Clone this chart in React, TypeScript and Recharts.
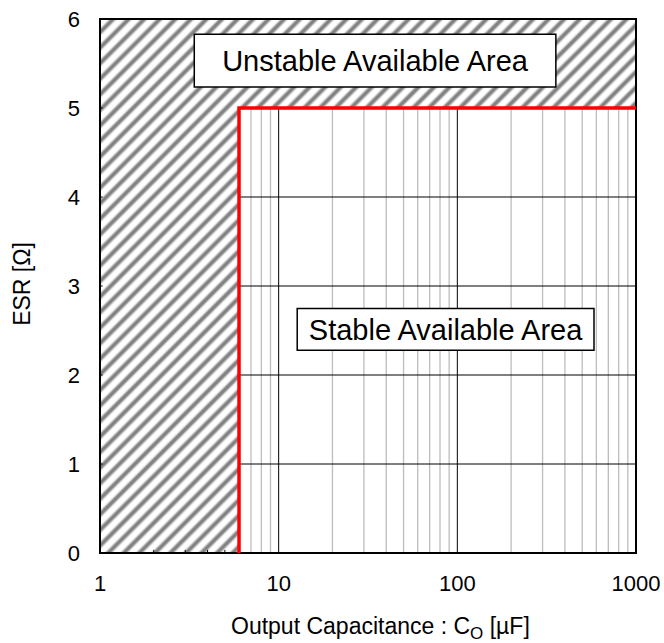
import React from 'react';
import { ComposedChart, Line, XAxis, YAxis, ReferenceArea, ReferenceLine } from 'recharts';

// ---- data ----
const xTicks = [1, 10, 100, 1000];
const yTicks = [0, 1, 2, 3, 4, 5, 6];
const xDomain = [1, 1000];
const yDomain = [0, 6];
const minCapacitance = 6;
const maxEsr = 5;
const boundary = [
  { x: 6, y: 0 },
  { x: 6, y: 5 },
  { x: 1000, y: 5 },
];
const minorX = [7, 8, 9, 20, 30, 40, 50, 60, 70, 80, 90, 200, 300, 400, 500, 600, 700, 800, 900];
const majorX = [10, 100];
const majorY = [1, 2, 3, 4];
const hatchTicksX = [2, 3, 4, 5];
const axisTicksY = [1, 2, 3, 4, 5];
const unstableBox = { x1: 3.37, x2: 356, y1: 5.237, y2: 5.83, text: 'Unstable Available Area' };
const stableBox = { x1: 12.7, x2: 582, y1: 2.277, y2: 2.748, text: 'Stable Available Area' };
const xTitle = ['Output Capacitance : C', 'O', ' [µF]'];
const yTitle = 'ESR [Ω]';

const FONT = '"Liberation Sans", Arial, sans-serif';

const XTitle = (props: any) => {
  const vb = props.viewBox || {};
  return (
    <text x={vb.x + 131} y={vb.y + 81} fontFamily={FONT} fontSize={23} fill="#000">
      <tspan>{xTitle[0]}</tspan>
      <tspan fontSize={17} dy={5}>{xTitle[1]}</tspan>
      <tspan dy={-5}>{xTitle[2]}</tspan>
    </text>
  );
};

const YTitle = (props: any) => {
  const vb = props.viewBox || {};
  const cx = vb.x + 22;
  const cy = vb.y + vb.height / 2 - 2;
  return (
    <text
      x={cx}
      y={cy}
      transform={`rotate(-90 ${cx} ${cy})`}
      textAnchor="middle"
      dominantBaseline="central"
      fontFamily={FONT}
      fontSize={23}
      fill="#000"
    >
      {yTitle}
    </text>
  );
};

export default function App() {
  return (
    <div style={{ position: 'absolute', left: 0, top: 0, background: '#fff' }}>
      <ComposedChart
        width={664}
        height={643}
        data={boundary}
        margin={{ top: 19, right: 28, left: 0, bottom: 0 }}
      >
        <defs>
          <linearGradient id="stripeGrad" x1="0" x2="1" y1="0" y2="0">
            <stop offset="0" stopColor="#ffffff" />
            <stop offset="0.2" stopColor="#ffffff" />
            <stop offset="0.42" stopColor="#808080" />
            <stop offset="0.58" stopColor="#808080" />
            <stop offset="0.8" stopColor="#ffffff" />
            <stop offset="1" stopColor="#ffffff" />
          </linearGradient>
          <pattern
            id="hatch"
            patternUnits="userSpaceOnUse"
            width="11"
            height="11"
            patternTransform="rotate(45)"
          >
            <rect x="0" y="0" width="11" height="11" fill="url(#stripeGrad)" />
          </pattern>
        </defs>
        <XAxis
          dataKey="x"
          type="number"
          scale="log"
          domain={xDomain}
          ticks={xTicks}
          interval={0}
          allowDataOverflow
          height={90}
          axisLine={false}
          tickLine={false}
          tickSize={0}
          tickMargin={22}
          tick={{ fontSize: 22, fill: '#000', fontFamily: FONT }}
          label={{ content: XTitle }}
        />
        <YAxis
          type="number"
          domain={yDomain}
          ticks={yTicks}
          interval={0}
          allowDataOverflow
          width={100}
          axisLine={false}
          tickLine={false}
          tickSize={0}
          tickMargin={20}
          tick={{ fontSize: 22, fill: '#000', fontFamily: FONT }}
          label={{ content: YTitle }}
        />
        {/* hatched unstable region */}
        <ReferenceArea
          x1={xDomain[0]}
          x2={minCapacitance}
          y1={yDomain[0]}
          y2={yDomain[1]}
          fill="url(#hatch)"
          fillOpacity={1}
          stroke="none"
          zIndex={10}
        />
        <ReferenceArea
          x1={minCapacitance}
          x2={xDomain[1]}
          y1={maxEsr}
          y2={yDomain[1]}
          fill="url(#hatch)"
          fillOpacity={1}
          stroke="none"
          zIndex={10}
        />
        {/* minor grid in stable area */}
        {minorX.map((v) => (
          <ReferenceLine
            key={`mx${v}`}
            segment={[{ x: v, y: 0 }, { x: v, y: maxEsr }]}
            stroke="#bdbdbd"
            strokeWidth={1.3}
            zIndex={20}
          />
        ))}
        {majorX.map((v) => (
          <ReferenceLine
            key={`Mx${v}`}
            segment={[{ x: v, y: 0 }, { x: v, y: maxEsr }]}
            stroke="#000"
            strokeWidth={1}
            zIndex={21}
          />
        ))}
        {majorY.map((v) => (
          <ReferenceLine
            key={`My${v}`}
            segment={[{ x: minCapacitance, y: v }, { x: xDomain[1], y: v }]}
            stroke="#000"
            strokeWidth={1}
            zIndex={21}
          />
        ))}
        {hatchTicksX.map((v) => (
          <ReferenceLine
            key={`tx${v}`}
            segment={[{ x: v, y: 0 }, { x: v, y: 0.035 }]}
            stroke="#000"
            strokeWidth={1}
            zIndex={22}
          />
        ))}
        {axisTicksY.map((v) => (
          <ReferenceLine
            key={`ty${v}`}
            segment={[{ x: 1, y: v }, { x: 1.035, y: v }]}
            stroke="#000"
            strokeWidth={1}
            zIndex={22}
          />
        ))}
        {/* plot border */}
        <ReferenceArea
          x1={xDomain[0]}
          x2={xDomain[1]}
          y1={yDomain[0]}
          y2={yDomain[1]}
          fill="none"
          stroke="#000"
          strokeWidth={2}
          zIndex={30}
        />
        {/* annotation boxes */}
        {[unstableBox, stableBox].map((b) => (
          <ReferenceArea
            key={b.text}
            x1={b.x1}
            x2={b.x2}
            y1={b.y1}
            y2={b.y2}
            fill="#fff"
            fillOpacity={1}
            stroke="#000"
            strokeWidth={1.5}
            zIndex={40}
            label={{ value: b.text, position: 'center', fontSize: 29, fill: '#000', fontFamily: FONT }}
          />
        ))}
        <Line
          dataKey="y"
          type="linear"
          stroke="#ff0000"
          strokeWidth={3.5}
          dot={false}
          activeDot={false}
          isAnimationActive={false}
          zIndex={450}
        />
      </ComposedChart>
    </div>
  );
}
